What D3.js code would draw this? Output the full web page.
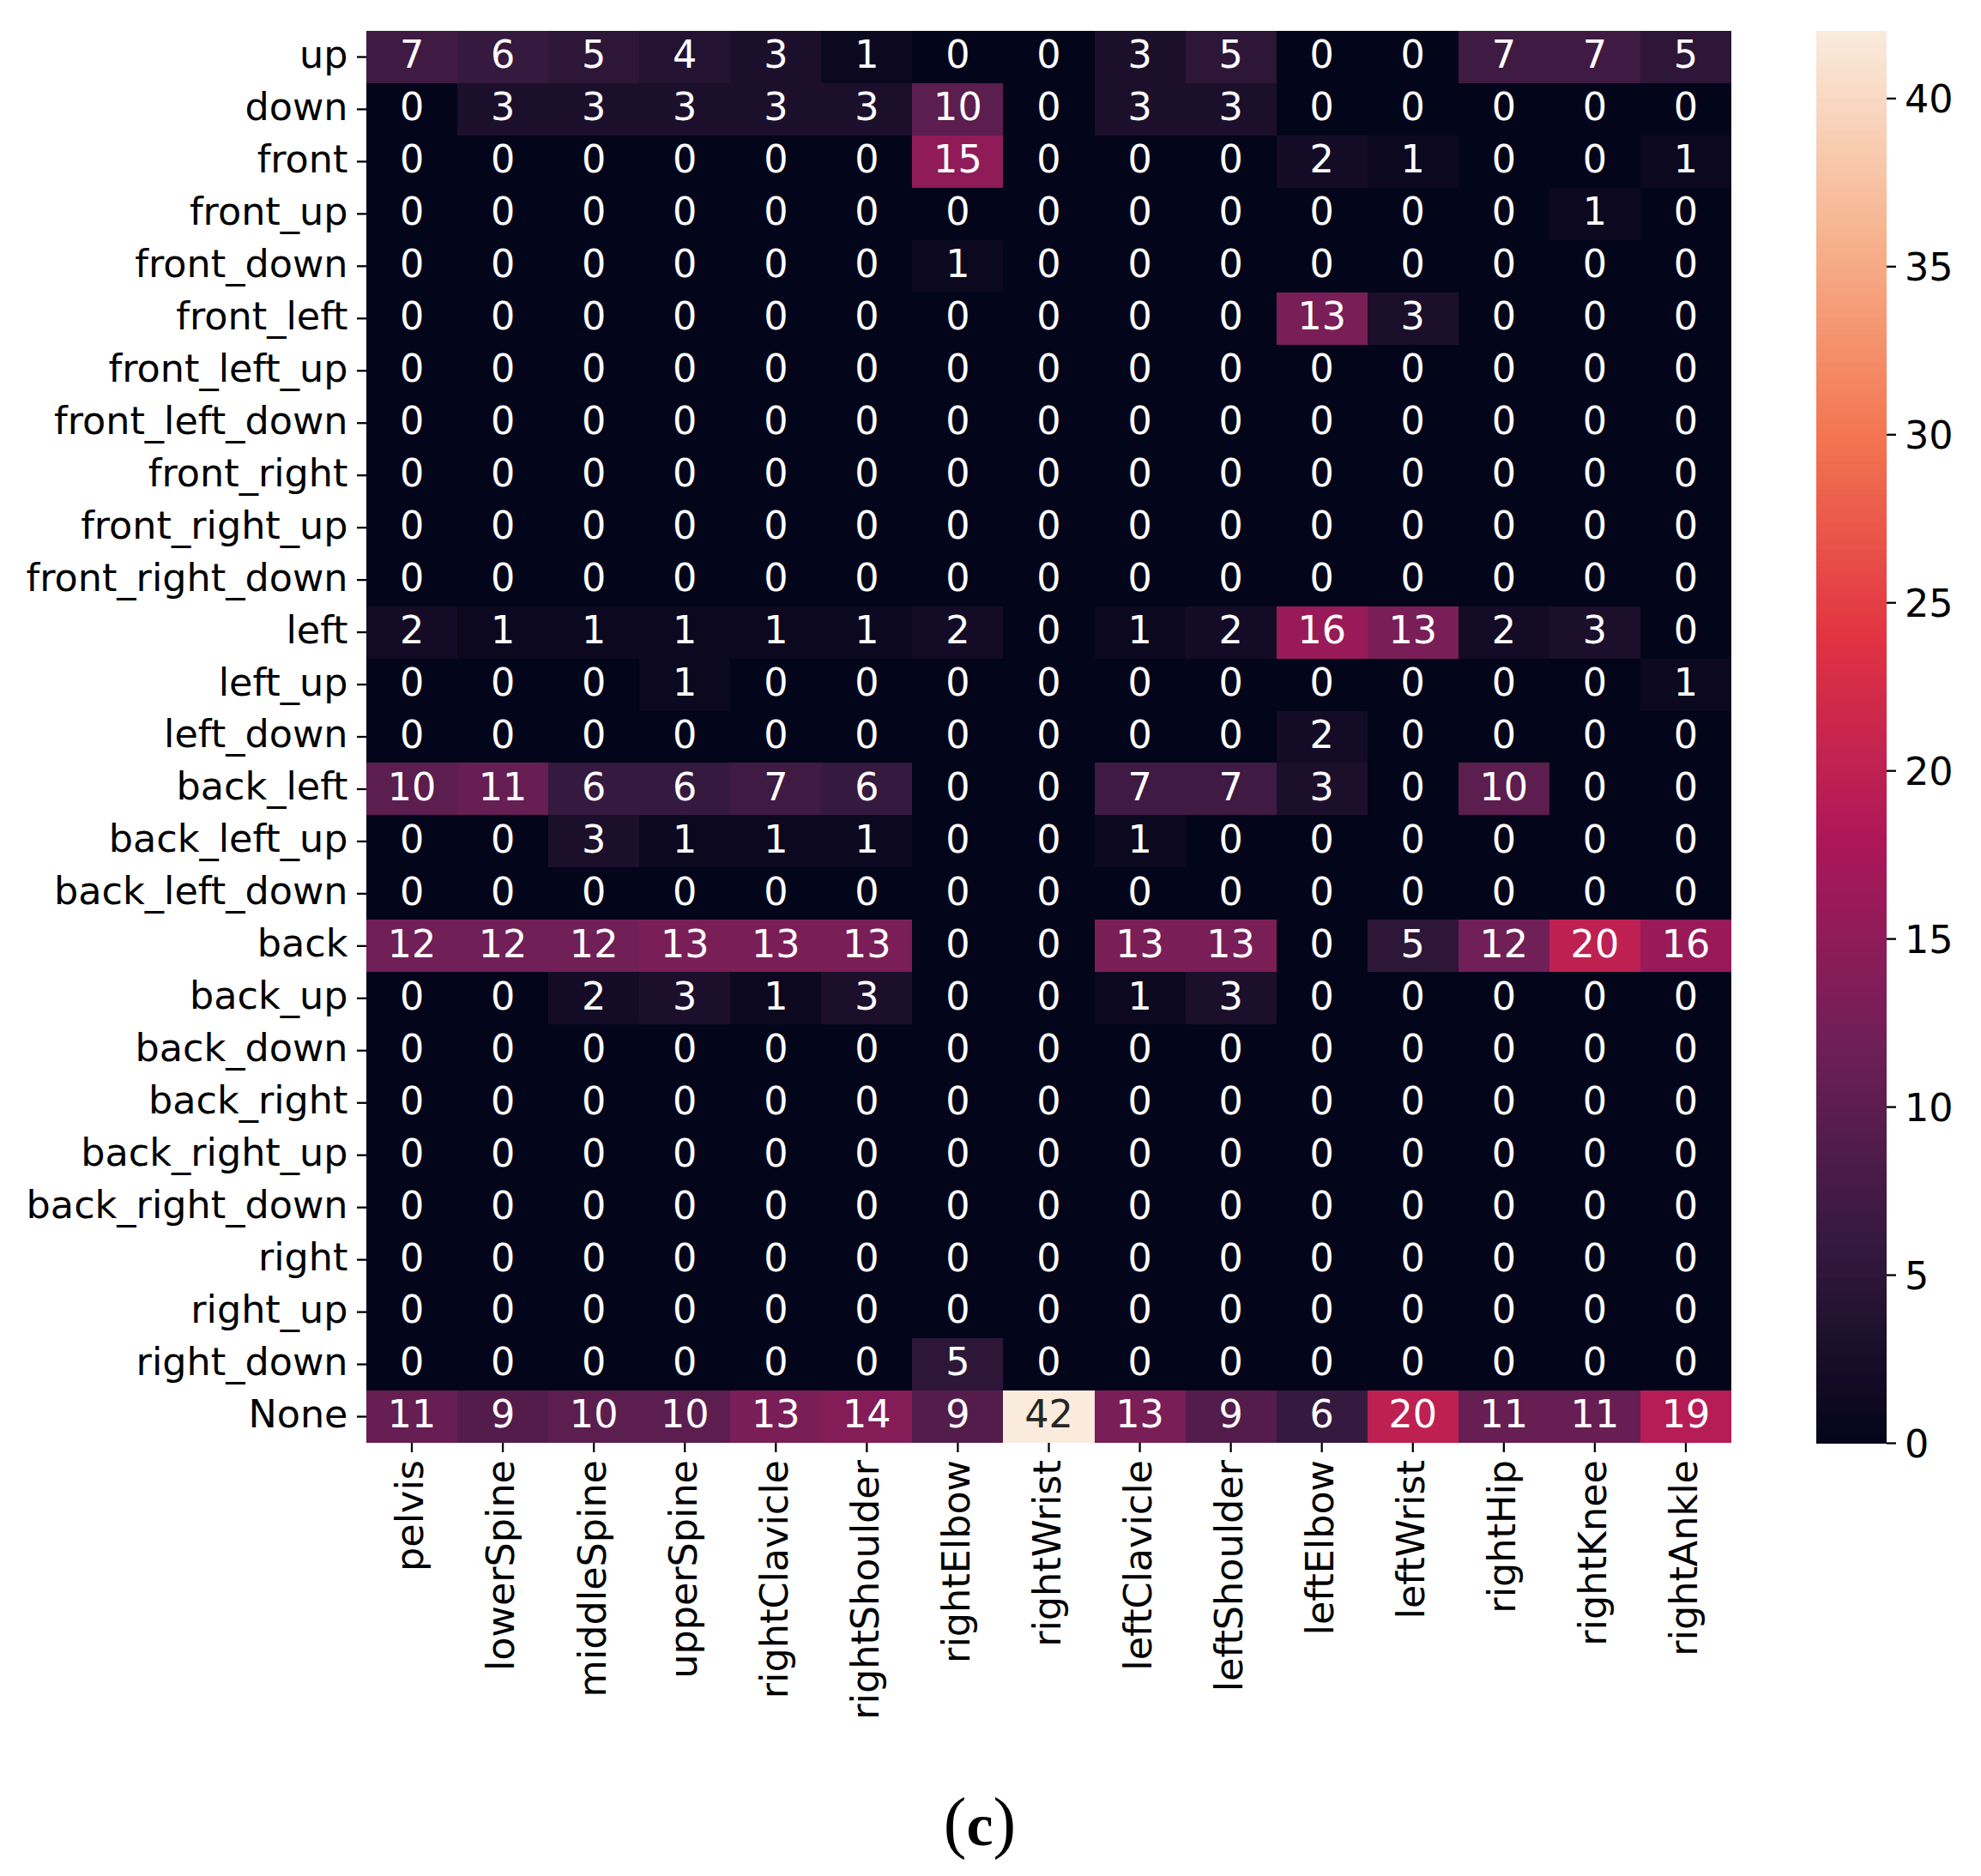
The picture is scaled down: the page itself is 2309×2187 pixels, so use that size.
<!DOCTYPE html>
<html>
<head>
<meta charset="utf-8">
<script src="https://cdn.jsdelivr.net/npm/d3@7"></script>
<style>
  html, body { margin: 0; padding: 0; background: #fff; }
  svg { display: block; }
  text { font-family: "DejaVu Sans", sans-serif; }
</style>
</head>
<body>
<div id="chart"></div>
<script>
var joints = ['pelvis', 'lowerSpine', 'middleSpine', 'upperSpine', 'rightClavicle',
  'rightShoulder', 'rightElbow', 'rightWrist', 'leftClavicle', 'leftShoulder',
  'leftElbow', 'leftWrist', 'rightHip', 'rightKnee', 'rightAnkle'];

var directions = ['up', 'down', 'front', 'front_up', 'front_down', 'front_left',
  'front_left_up', 'front_left_down', 'front_right', 'front_right_up', 'front_right_down',
  'left', 'left_up', 'left_down', 'back_left', 'back_left_up', 'back_left_down',
  'back', 'back_up', 'back_down', 'back_right', 'back_right_up', 'back_right_down',
  'right', 'right_up', 'right_down', 'None'];

// One row per direction, one column per joint
var counts = [
  [7, 6, 5, 4, 3, 1, 0, 0, 3, 5, 0, 0, 7, 7, 5],
  [0, 3, 3, 3, 3, 3, 10, 0, 3, 3, 0, 0, 0, 0, 0],
  [0, 0, 0, 0, 0, 0, 15, 0, 0, 0, 2, 1, 0, 0, 1],
  [0, 0, 0, 0, 0, 0, 0, 0, 0, 0, 0, 0, 0, 1, 0],
  [0, 0, 0, 0, 0, 0, 1, 0, 0, 0, 0, 0, 0, 0, 0],
  [0, 0, 0, 0, 0, 0, 0, 0, 0, 0, 13, 3, 0, 0, 0],
  [0, 0, 0, 0, 0, 0, 0, 0, 0, 0, 0, 0, 0, 0, 0],
  [0, 0, 0, 0, 0, 0, 0, 0, 0, 0, 0, 0, 0, 0, 0],
  [0, 0, 0, 0, 0, 0, 0, 0, 0, 0, 0, 0, 0, 0, 0],
  [0, 0, 0, 0, 0, 0, 0, 0, 0, 0, 0, 0, 0, 0, 0],
  [0, 0, 0, 0, 0, 0, 0, 0, 0, 0, 0, 0, 0, 0, 0],
  [2, 1, 1, 1, 1, 1, 2, 0, 1, 2, 16, 13, 2, 3, 0],
  [0, 0, 0, 1, 0, 0, 0, 0, 0, 0, 0, 0, 0, 0, 1],
  [0, 0, 0, 0, 0, 0, 0, 0, 0, 0, 2, 0, 0, 0, 0],
  [10, 11, 6, 6, 7, 6, 0, 0, 7, 7, 3, 0, 10, 0, 0],
  [0, 0, 3, 1, 1, 1, 0, 0, 1, 0, 0, 0, 0, 0, 0],
  [0, 0, 0, 0, 0, 0, 0, 0, 0, 0, 0, 0, 0, 0, 0],
  [12, 12, 12, 13, 13, 13, 0, 0, 13, 13, 0, 5, 12, 20, 16],
  [0, 0, 2, 3, 1, 3, 0, 0, 1, 3, 0, 0, 0, 0, 0],
  [0, 0, 0, 0, 0, 0, 0, 0, 0, 0, 0, 0, 0, 0, 0],
  [0, 0, 0, 0, 0, 0, 0, 0, 0, 0, 0, 0, 0, 0, 0],
  [0, 0, 0, 0, 0, 0, 0, 0, 0, 0, 0, 0, 0, 0, 0],
  [0, 0, 0, 0, 0, 0, 0, 0, 0, 0, 0, 0, 0, 0, 0],
  [0, 0, 0, 0, 0, 0, 0, 0, 0, 0, 0, 0, 0, 0, 0],
  [0, 0, 0, 0, 0, 0, 0, 0, 0, 0, 0, 0, 0, 0, 0],
  [0, 0, 0, 0, 0, 0, 5, 0, 0, 0, 0, 0, 0, 0, 0],
  [11, 9, 10, 10, 13, 14, 9, 42, 13, 9, 6, 20, 11, 11, 19]
];

var colorbarTicks = [0, 5, 10, 15, 20, 25, 30, 35, 40];
var maxCount = 42;

// Seaborn "rocket" palette, sampled evenly
var rocket = ['#03051a', '#35193e', '#701f57', '#ad1759', '#e13342', '#f37651', '#f6b48f', '#faebdd'];

var width = 2309, height = 2187;
var left = 427, right = 2018, top_ = 36, bottom = 1682;
var barLeft = 2117, barRight = 2199;
var fontSize = 44.5, tickSize = 11, tickWidth = 2.3;

var svg = d3.select('#chart').append('svg')
  .attr('width', width)
  .attr('height', height);

var x = d3.scaleBand().domain(joints).range([left, right]);
var y = d3.scaleBand().domain(directions).range([top_, bottom]);

var color = d3.scaleLinear()
  .domain(rocket.map(function(c, i) { return maxCount * i / (rocket.length - 1); }))
  .range(rocket)
  .interpolate(d3.interpolateRgb);

var cells = [];
counts.forEach(function(row, i) {
  row.forEach(function(v, j) {
    cells.push({ direction: directions[i], joint: joints[j], value: v });
  });
});

// Heatmap cells
svg.append('g')
  .attr('shape-rendering', 'crispEdges')
  .selectAll('rect').data(cells).enter().append('rect')
  .attr('x', function(d) { return x(d.joint); })
  .attr('y', function(d) { return y(d.direction); })
  .attr('width', x.bandwidth())
  .attr('height', y.bandwidth())
  .attr('fill', function(d) { return color(d.value); });

// Annotations
svg.append('g').selectAll('text').data(cells).enter().append('text')
  .text(function(d) { return d.value; })
  .attr('x', function(d) { return x(d.joint) + x.bandwidth() / 2; })
  .attr('y', function(d) { return y(d.direction) + y.bandwidth() / 2; })
  .attr('dy', '0.29em')
  .attr('text-anchor', 'middle')
  .style('font-size', fontSize + 'px')
  .attr('fill', function(d) { return d.value > 30 ? '#262626' : '#ffffff'; });

function styleAxis(g) {
  g.select('.domain').remove();
  g.selectAll('.tick line').attr('stroke', '#000').attr('stroke-width', tickWidth);
  g.selectAll('.tick text').attr('fill', '#000').style('font-size', fontSize + 'px');
}

// Bottom axis, labels turned 90 degrees
var xAxis = svg.append('g')
  .attr('transform', 'translate(0,' + bottom + ')')
  .call(d3.axisBottom(x).tickSize(tickSize))
  .call(styleAxis);
xAxis.selectAll('.tick text')
  .attr('x', 0)
  .attr('y', 0)
  .attr('dy', '0.30em')
  .attr('text-anchor', 'end')
  .attr('transform', 'translate(0,' + (tickSize + 9) + ') rotate(-90)');

// Left axis
var yAxis = svg.append('g')
  .attr('transform', 'translate(' + left + ',0)')
  .call(d3.axisLeft(y).tickSize(tickSize).tickPadding(10.5))
  .call(styleAxis);
yAxis.selectAll('.tick text').attr('dy', '0.28em');

// Colorbar
var barScale = d3.scaleLinear().domain([0, maxCount]).range([bottom, top_]);
var barStep = maxCount / 256;
svg.append('g')
  .attr('shape-rendering', 'crispEdges')
  .selectAll('rect').data(d3.range(256)).enter().append('rect')
  .attr('x', barLeft)
  .attr('width', barRight - barLeft)
  .attr('y', function(d) { return barScale((d + 1) * barStep); })
  .attr('height', function(d) { return barScale(d * barStep) - barScale((d + 1) * barStep) + 0.5; })
  .attr('fill', function(d) { return color((d + 0.5) * barStep); });

var barAxis = svg.append('g')
  .attr('transform', 'translate(' + barRight + ',0)')
  .call(d3.axisRight(barScale).tickValues(colorbarTicks).tickSize(tickSize).tickPadding(10))
  .call(styleAxis);
barAxis.selectAll('.tick text').attr('dy', '0.37em');

// Sub-figure caption, thin brackets around a bold letter
var caption = svg.append('text')
  .attr('x', 1142)
  .attr('y', 2151)
  .attr('text-anchor', 'middle')
  .style('font-family', '"Liberation Serif", serif')
  .style('font-size', '80px')
  .attr('fill', '#000');
caption.append('tspan').text('(');
caption.append('tspan').text('c').style('font-weight', 'bold').style('font-size', '70px');
caption.append('tspan').text(')');
</script>
</body>
</html>
